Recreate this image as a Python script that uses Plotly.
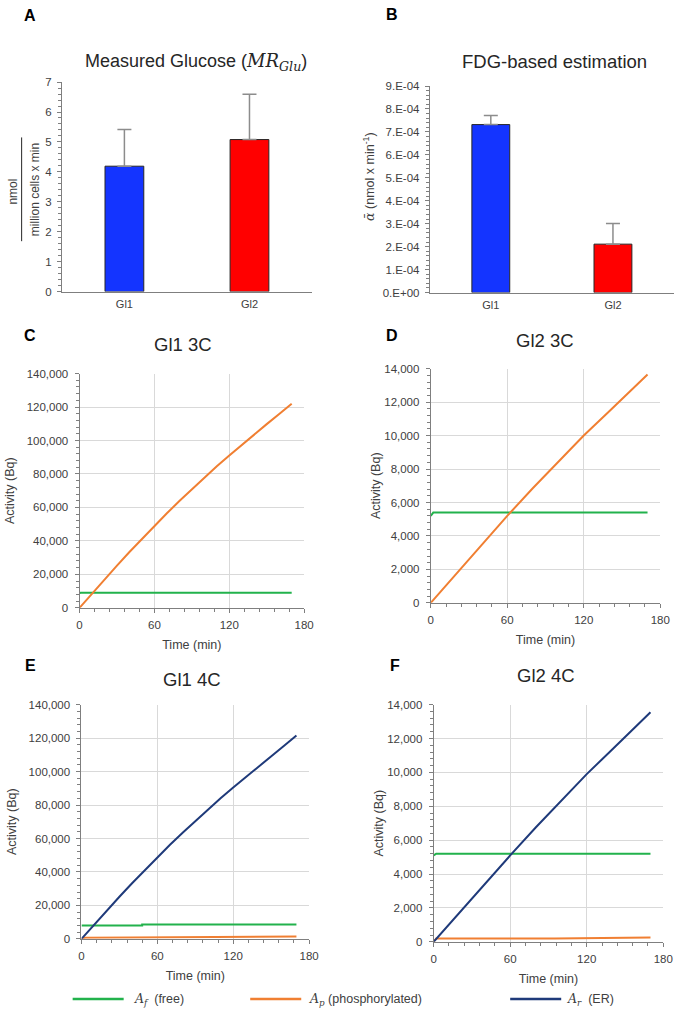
import plotly.graph_objects as go

# ── data ─────────────────────────────────────
groups = ['Gl1', 'Gl2']
mr_glu = [4.19, 5.08]
mr_glu_err = [1.23, 1.51]
alpha_mean = [7.32e-4, 2.11e-4]
alpha_err = [0.40e-4, 0.90e-4]
alpha_tickvals = [0, 1e-4, 2e-4, 3e-4, 4e-4, 5e-4, 6e-4, 7e-4, 8e-4, 9e-4]
alpha_ticktext = ['0.E+00', '1.E-04', '2.E-04', '3.E-04', '4.E-04',
                  '5.E-04', '6.E-04', '7.E-04', '8.E-04', '9.E-04']

# Gl1 3C
t_gl1_3c = [0, 10, 20, 30, 40, 50, 60, 70, 80, 90, 100, 110, 120, 130, 140, 150, 160, 170]
ap_gl1_3c = [0, 8600, 17000, 25250, 33350, 41250, 49000, 56500, 63800, 70900,
             77850, 84550, 91000, 97400, 103650, 109800, 115900, 122000]
t_af_gl1_3c = [0, 1, 170]
af_gl1_3c = [8800, 9000, 9000]

# Gl2 3C
t_gl2_3c = [0, 20, 40, 60, 80, 100, 120, 140, 160, 170]
ap_gl2_3c = [0, 1750, 3500, 5200, 6850, 8450, 10000, 11450, 12900, 13650]
t_af_gl2_3c = [0, 2, 170]
af_gl2_3c = [5200, 5400, 5400]

# Gl1 4C
t_gl1_4c = [0, 10, 20, 30, 40, 50, 60, 70, 80, 90, 100, 110, 120, 130, 140, 150, 160, 170]
ar_gl1_4c = [0, 8550, 16900, 25150, 33200, 41050, 48750, 56200, 63450, 70500,
             77400, 84050, 90450, 96800, 103000, 109100, 115300, 121500]
t_af_gl1_4c = [0, 48, 48, 170]
af_gl1_4c = [7900, 7900, 8600, 8600]
t_ap_gl1_4c = [0, 3, 40, 75, 88, 120, 170]
ap_gl1_4c = [0, 650, 800, 950, 1350, 1400, 1400]

# Gl2 4C
t_gl2_4c = [0, 20, 40, 60, 80, 100, 120, 140, 160, 170]
ar_gl2_4c = [0, 1700, 3450, 5100, 6750, 8350, 9900, 11350, 12800, 13550]
t_af_gl2_4c = [0, 2, 170]
af_gl2_4c = [5100, 5200, 5200]
t_ap_gl2_4c = [0, 2, 95, 125, 135, 170]
ap_gl2_4c = [0, 200, 200, 230, 250, 250]

# ── styling ──────────────────────────────────
W, H = 685, 1015
FONT = 'Liberation Sans, Arial, sans-serif'
SERIF = 'DejaVu Serif, Liberation Serif, serif'
TXT = '#404040'
AXIS = '#7f7f7f'
GRID = '#d9d9d9'
GREEN = '#22b24c'
ORANGE = '#f07f32'
NAVY = '#1f3a7a'
BLUE = '#1434ff'
RED = '#ff0000'


def dx(x0, x1):
    return [x0 / W, x1 / W]


def dy(top, bottom):
    return [1 - bottom / H, 1 - top / H]


def bar_xaxis(dom, anchor):
    return dict(domain=dom, anchor=anchor, showline=True, linecolor=AXIS,
                linewidth=1, ticks='', showgrid=False, range=[-0.5, 1.5],
                tickfont=dict(size=11, color=TXT), ticklabelstandoff=2)


def line_xaxis(dom, anchor):
    return dict(domain=dom, anchor=anchor, range=[0, 180], dtick=60,
                showline=True, linecolor=AXIS, linewidth=1,
                showgrid=True, gridcolor=GRID, gridwidth=1,
                ticks='outside', ticklen=4, tickcolor=AXIS, ticklabelstandoff=2,
                minor=dict(dtick=12, ticks='outside', ticklen=3, tickcolor=AXIS),
                tickfont=dict(size=11.5, color=TXT), zeroline=False,
                title=dict(text='Time (min)', font=dict(size=12.5, color=TXT), standoff=10))


def line_yaxis(dom, anchor, top, step, standoff):
    return dict(domain=dom, anchor=anchor, range=[0, top], dtick=step,
                showline=True, linecolor=AXIS, linewidth=1,
                showgrid=True, gridcolor=GRID, gridwidth=1,
                ticks='outside', ticklen=4, tickcolor=AXIS, tickformat=',d',
                ticklabelstandoff=4,
                minor=dict(dtick=step / 5, ticks='outside', ticklen=3, tickcolor=AXIS),
                tickfont=dict(size=11.5, color=TXT), zeroline=False,
                title=dict(text='Activity (Bq)', font=dict(size=12.5, color=TXT),
                           standoff=standoff))


fig = go.Figure()

# ── A: measured glucose ──
fig.add_trace(go.Bar(
    x=groups, y=mr_glu, xaxis='x', yaxis='y', width=0.31,
    marker=dict(color=[BLUE, RED], line=dict(color='#262626', width=1)),
    error_y=dict(type='data', array=mr_glu_err, arrayminus=[0, 0], symmetric=False,
                 color='#8c8c8c', thickness=1.5, width=7),
    showlegend=False
))

# ── B: FDG-based estimation ──
fig.add_trace(go.Bar(
    x=groups, y=alpha_mean, xaxis='x2', yaxis='y2', width=0.31,
    marker=dict(color=[BLUE, RED], line=dict(color='#262626', width=1)),
    error_y=dict(type='data', array=alpha_err, arrayminus=[0, 0], symmetric=False,
                 color='#8c8c8c', thickness=1.5, width=7),
    showlegend=False
))

# ── C-F: activity curves ──
curves = [
    ('x3', 'y3', t_af_gl1_3c, af_gl1_3c, GREEN),
    ('x3', 'y3', t_gl1_3c, ap_gl1_3c, ORANGE),
    ('x4', 'y4', t_af_gl2_3c, af_gl2_3c, GREEN),
    ('x4', 'y4', t_gl2_3c, ap_gl2_3c, ORANGE),
    ('x5', 'y5', t_af_gl1_4c, af_gl1_4c, GREEN),
    ('x5', 'y5', t_ap_gl1_4c, ap_gl1_4c, ORANGE),
    ('x5', 'y5', t_gl1_4c, ar_gl1_4c, NAVY),
    ('x6', 'y6', t_af_gl2_4c, af_gl2_4c, GREEN),
    ('x6', 'y6', t_ap_gl2_4c, ap_gl2_4c, ORANGE),
    ('x6', 'y6', t_gl2_4c, ar_gl2_4c, NAVY),
]
for xa, ya, t, v, c in curves:
    fig.add_trace(go.Scatter(x=t, y=v, xaxis=xa, yaxis=ya, mode='lines',
                             line=dict(color=c, width=2), showlegend=False))

fig.update_layout(
    width=W, height=H,
    margin=dict(l=0, r=0, t=0, b=0),
    paper_bgcolor='white', plot_bgcolor='white',
    font=dict(family=FONT, color=TXT),
    xaxis=bar_xaxis(dx(60, 315), 'y'),
    yaxis=dict(domain=dy(77, 289), anchor='x', range=[0, 7], dtick=1,
               showline=True, linecolor=AXIS, showgrid=False, zeroline=False,
               ticks='outside', ticklen=4, tickcolor=AXIS, ticklabelstandoff=3,
               minor=dict(dtick=0.2, ticks='outside', ticklen=3, tickcolor=AXIS),
               tickfont=dict(size=11.5, color=TXT)),
    xaxis2=bar_xaxis(dx(435, 684), 'y2'),
    yaxis2=dict(domain=dy(81, 290), anchor='x2', range=[0, 9e-4],
                tickvals=alpha_tickvals, ticktext=alpha_ticktext,
                showline=True, linecolor=AXIS, showgrid=False, zeroline=False,
                ticks='outside', ticklen=4, tickcolor=AXIS, ticklabelstandoff=3,
                minor=dict(dtick=0.2e-4, ticks='outside', ticklen=3, tickcolor=AXIS),
                tickfont=dict(size=11.5, color=TXT)),
    xaxis3=line_xaxis(dx(78, 307), 'y3'),
    yaxis3=line_yaxis(dy(372, 609), 'x3', 140000, 20000, 9),
    xaxis4=line_xaxis(dx(436, 670), 'y4'),
    yaxis4=line_yaxis(dy(367, 604), 'x4', 14000, 2000, 0),
    xaxis5=line_xaxis(dx(80, 312), 'y5'),
    yaxis5=line_yaxis(dy(707, 944), 'x5', 140000, 20000, 9),
    xaxis6=line_xaxis(dx(439, 673), 'y6'),
    yaxis6=line_yaxis(dy(707, 947), 'x6', 14000, 2000, 0),
)

# ── titles, panel letters, special axis labels ──
ann = []


def text(x, y, s, size=12.5, xanchor='center', color='#262626', **kw):
    ann.append(dict(x=x / W, y=1 - y / H, xref='paper', yref='paper', text=s,
                    showarrow=False, xanchor=xanchor, yanchor='middle',
                    font=dict(family=FONT, size=size, color=color), **kw))


for letter, lx, ly in [('A', 28, 10), ('B', 397, 9), ('C', 28, 333),
                       ('D', 397, 333), ('E', 28, 667), ('F', 400, 667)]:
    text(lx, ly, '<b>' + letter + '</b>', size=16, color='black')


def mi(s):
    return f'<span style="font-family:{SERIF}"><i>{s}</i></span>'


text(197, 57, 'Measured Glucose (' + mi('MR') + '<sub>' + mi('Glu') + '</sub>)', size=18)
text(562, 56, 'FDG-based estimation', size=18.5)
text(183, 343, 'Gl1 3C', size=18.5)
text(552, 338, 'Gl2 3C', size=18.5)
text(193, 682, 'Gl1 4C', size=18.5)
text(554, 678, 'Gl2 4C', size=18.5)

# fraction label of panel A
text(10, 188, 'nmol', size=12, textangle=-90, color=TXT)
text(32, 186, 'million cells x min', size=12, textangle=-90, color=TXT)
# alpha-bar label of panel B
text(373, 173, mi('ᾱ') + ' (nmol x min<sup>-1</sup>)', size=12.5, textangle=-90, color=TXT)

# legend labels
text(132, 1005, mi('A') + '<sub>' + mi('f') + '</sub>  (free)', size=12.5, xanchor='left', color=TXT)
text(310, 1005, mi('A') + '<sub>' + mi('p') + '</sub> (phosphorylated)', size=12.5, xanchor='left', color=TXT)
text(573, 1005, mi('A') + '<sub>' + mi('r') + '</sub>  (ER)', size=12.5, xanchor='left', color=TXT)

fig.update_layout(annotations=ann)

shapes = [
    # fraction bar of panel A label
    dict(type='line', xref='paper', yref='paper', x0=19 / W, x1=19 / W,
         y0=1 - 133 / H, y1=1 - 238 / H, line=dict(color='#262626', width=1)),
]
for c, x0, x1 in [(GREEN, 71, 123), (ORANGE, 252, 304), (NAVY, 517, 569)]:
    shapes.append(dict(type='line', xref='paper', yref='paper', x0=x0 / W, x1=x1 / W,
                       y0=1 - 1005 / H, y1=1 - 1005 / H, line=dict(color=c, width=2.5)))
fig.update_layout(shapes=shapes)

fig.write_html('out.html', config={'displayModeBar': False},
               post_script="document.body.style.margin='0';")
